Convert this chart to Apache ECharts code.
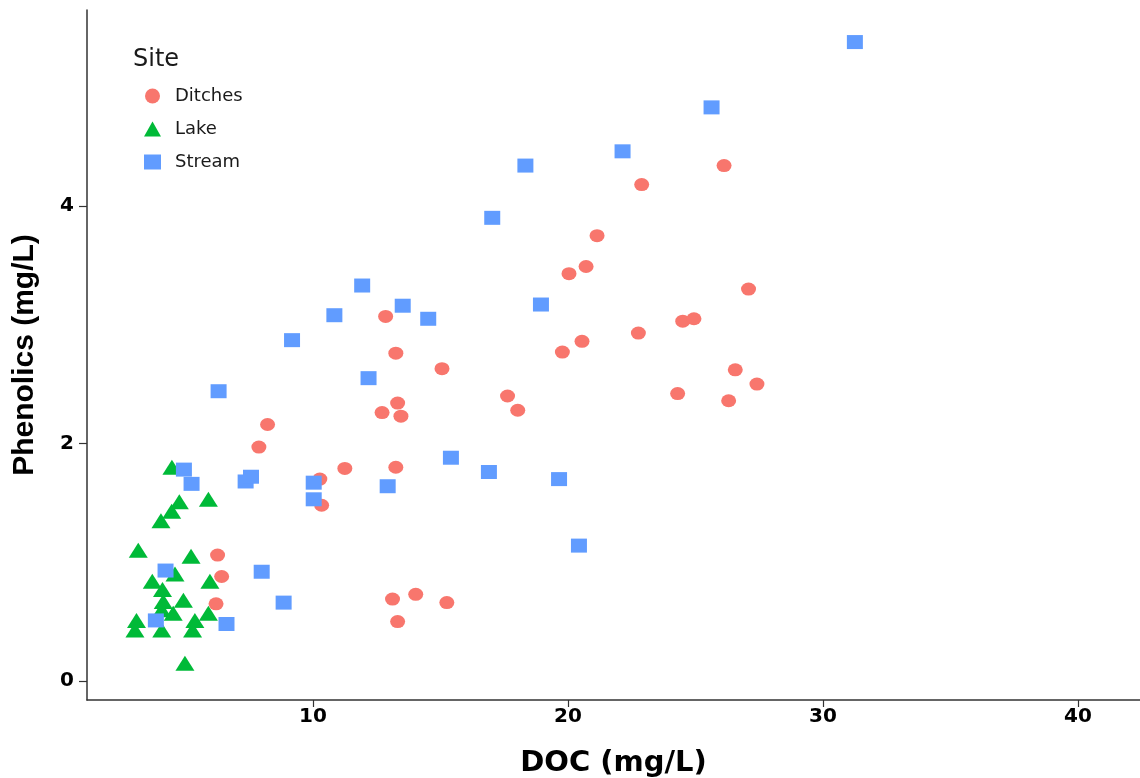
<!DOCTYPE html>
<html>
<head>
<meta charset="utf-8">
<title>Phenolics vs DOC</title>
<script src="https://cdn.jsdelivr.net/npm/echarts@6/dist/echarts.min.js"></script>
<style>
  html, body { margin: 0; padding: 0; background: #fff; }
  #chart { width: 1140px; height: 778px; }
</style>
</head>
<body>
<div id="chart"></div>
<script>
// data: [DOC, Phenolics]
const ditches = [
  [6.26, 1.06], [6.42, 0.88], [6.2, 0.65], [7.88, 1.97], [8.22, 2.16],
  [10.27, 1.70], [10.34, 1.48], [11.25, 1.79], [12.85, 3.07], [13.25, 2.76],
  [13.32, 2.34], [12.71, 2.26], [13.45, 2.23], [13.25, 1.80], [13.12, 0.69],
  [14.03, 0.73], [15.25, 0.66], [13.32, 0.50], [15.06, 2.63], [17.63, 2.40],
  [18.03, 2.28], [19.78, 2.77], [20.55, 2.86], [20.04, 3.43], [20.71, 3.49],
  [21.14, 3.75], [22.76, 2.93], [22.89, 4.18], [24.5, 3.03], [24.94, 3.05],
  [24.3, 2.42], [26.12, 4.34], [26.56, 2.62], [26.3, 2.36], [27.08, 3.30],
  [27.41, 2.50]
]
const lake = [
  [4.47, 1.80], [5.9, 1.53], [4.76, 1.51], [4.46, 1.43], [4.04, 1.35],
  [3.15, 1.10], [5.22, 1.05], [4.59, 0.90], [3.70, 0.84], [5.96, 0.84],
  [4.10, 0.77], [4.92, 0.68], [4.13, 0.67], [4.07, 0.60], [4.52, 0.57],
  [5.9, 0.57], [5.37, 0.51], [5.28, 0.43], [3.08, 0.51], [3.02, 0.43],
  [4.07, 0.43], [4.98, 0.15]
]
const stream = [
  [3.84, 0.51], [4.22, 0.93], [4.94, 1.78], [5.24, 1.66], [6.30, 2.44],
  [6.61, 0.48], [7.36, 1.68], [7.57, 1.72], [7.99, 0.92], [8.85, 0.66],
  [9.18, 2.87], [10.03, 1.67], [10.03, 1.53], [10.84, 3.08], [11.93, 3.33],
  [12.18, 2.55], [12.93, 1.64], [13.52, 3.16], [14.52, 3.05], [15.41, 1.88],
  [16.90, 1.76], [17.03, 3.90], [18.33, 4.34], [18.94, 3.17], [19.65, 1.70],
  [20.43, 1.14], [22.14, 4.46], [25.63, 4.83], [31.25, 5.38]
]
const xTicks = [10, 20, 30, 40]
const yTicks = [0, 2, 4]

const chart = echarts.init(document.getElementById('chart'))
const wide = '"DejaVu Sans", Verdana, sans-serif'
const arial = '"Liberation Sans", Arial, sans-serif'

const axisCommon = {
  type: 'value',
  nameLocation: 'middle',
  axisLine: { show: true, onZero: false, lineStyle: { color: '#333', width: 1.5 } },
  axisTick: { show: true, length: 8, lineStyle: { color: '#333', width: 1.2 } },
  axisLabel: { fontFamily: wide, fontWeight: 'bold', fontSize: 20, color: '#000' },
  splitLine: { show: false }
}

const option = {
  animation: false,
  grid: { left: 87, right: 0, top: 10, bottom: 78, containLabel: false, outerBoundsMode: 'none' },
  legend: {
    orient: 'vertical',
    left: 144,
    top: 87,
    padding: 0,
    itemGap: 15,
    itemWidth: 17,
    itemHeight: 15,
    textStyle: { fontFamily: wide, fontSize: 18, lineHeight: 18, color: '#1a1a1a', padding: [0, 0, 0, 9] },
    data: ['Ditches', 'Lake', 'Stream']
  },
  graphic: [{
    type: 'text',
    left: 133,
    top: 48,
    style: { text: 'Site', font: '24px "DejaVu Sans", Verdana, sans-serif', fill: '#1a1a1a' }
  }],
  xAxis: Object.assign({}, axisCommon, {
    name: 'DOC (mg/L)',
    nameGap: 49,
    nameTextStyle: { fontFamily: wide, fontWeight: 'bold', fontSize: 29, color: '#000' },
    min: 1.14,
    max: 42.43,
    axisTick: Object.assign({}, axisCommon.axisTick, { length: 7, customValues: xTicks }),
    axisLabel: Object.assign({}, axisCommon.axisLabel, { customValues: xTicks, margin: 7 })
  }),
  yAxis: Object.assign({}, axisCommon, {
    name: 'Phenolics (mg/L)',
    nameGap: 47,
    nameTextStyle: { fontFamily: arial, fontWeight: 'bold', fontSize: 30, color: '#000' },
    min: -0.16,
    max: 5.65,
    axisTick: Object.assign({}, axisCommon.axisTick, { customValues: yTicks }),
    axisLabel: Object.assign({}, axisCommon.axisLabel, { customValues: yTicks, margin: 13 })
  }),
  series: [
    {
      name: 'Ditches', type: 'scatter', data: ditches,
      symbol: 'circle', symbolSize: [15, 13],
      itemStyle: { color: '#F8766D', opacity: 1 }
    },
    {
      name: 'Lake', type: 'scatter', data: lake,
      symbol: 'triangle', symbolSize: [19, 15],
      itemStyle: { color: '#00BA38', opacity: 1 }
    },
    {
      name: 'Stream', type: 'scatter', data: stream,
      symbol: 'rect', symbolSize: [16, 14],
      itemStyle: { color: '#619CFF', opacity: 1 }
    }
  ]
}

chart.setOption(option)
window.addEventListener('resize', () => chart.resize())
</script>
</body>
</html>
